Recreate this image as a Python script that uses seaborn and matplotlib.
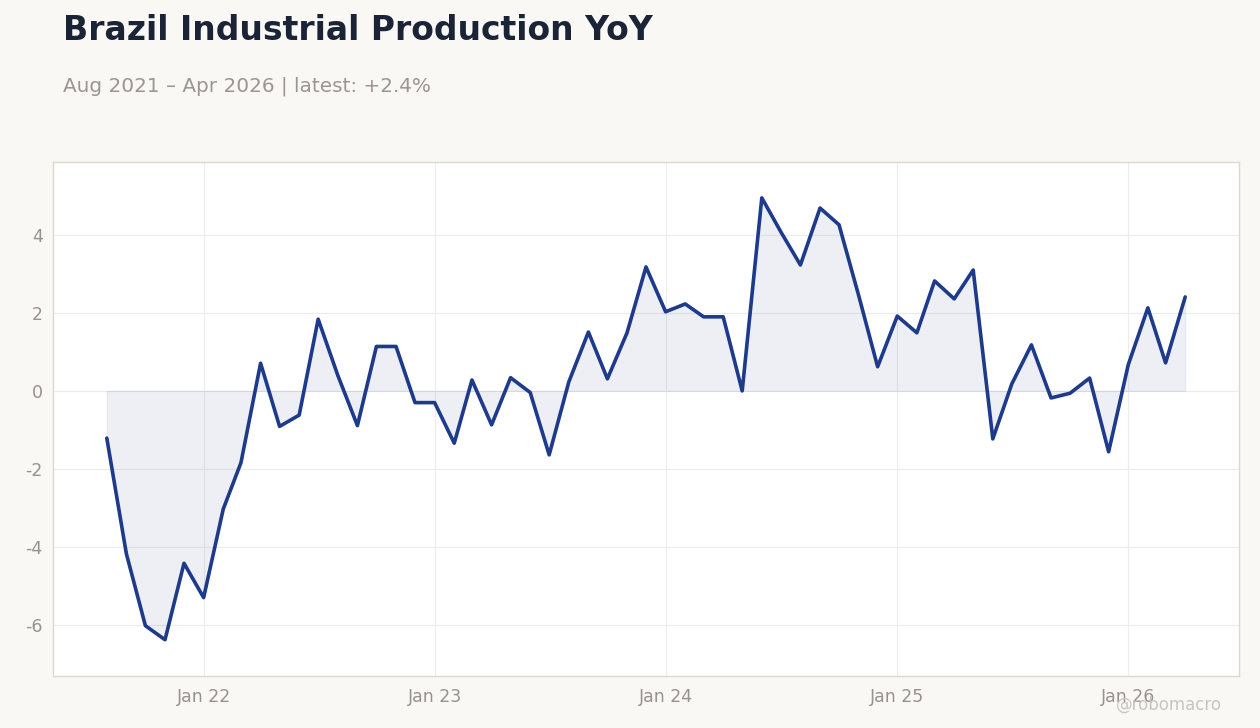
import pandas as pd
import numpy as np
import matplotlib.pyplot as plt
import matplotlib.dates as mdates
import seaborn as sns

# Brazil industrial production, YoY %, monthly Aug 2021 - Apr 2026
months = pd.date_range('2021-08-01', '2026-04-01', freq='MS')
yoy = [-1.21, -4.18, -6.02, -6.38, -4.42, -5.30, -3.03, -1.84, 0.71, -0.91,
       -0.62, 1.84, 0.40, -0.89, 1.14, 1.14, -0.30, -0.30, -1.34, 0.28,
       -0.87, 0.34, -0.04, -1.64, 0.23, 1.51, 0.31, 1.49, 3.18, 2.03,
       2.23, 1.90, 1.90, 0.00, 4.95, 4.08, 3.23, 4.69, 4.26, 2.45,
       0.62, 1.92, 1.49, 2.82, 2.36, 3.10, -1.23, 0.18, 1.18, -0.18,
       -0.06, 0.33, -1.56, 0.67, 2.13, 0.72, 2.41]
y_ticks = [-6, -4, -2, 0, 2, 4]

df = pd.DataFrame({'date': months, 'yoy': yoy})

bg = '#f9f8f5'
line_col = '#1e3a8a'
sns.set_style('whitegrid')
plt.rcParams['font.family'] = ['DejaVu Sans']

fig = plt.figure(figsize=(12.6, 7.28), dpi=100, facecolor=bg)
ax = fig.add_axes([53 / 1260, 1 - 676 / 728, (1239 - 53) / 1260, (676 - 162) / 728])
ax.set_facecolor('white')

ax.fill_between(df['date'], df['yoy'], 0, color=line_col, alpha=0.08, linewidth=0.8)
sns.lineplot(data=df, x='date', y='yoy', ax=ax, color=line_col, linewidth=2.6)

ax.set_ylim(-7.31, 5.87)
ax.set_xlim(months[0] - pd.Timedelta(days=85), months[-1] + pd.Timedelta(days=85))
ax.set_yticks(y_ticks)
ax.set_yticklabels([str(t) for t in y_ticks])
ax.xaxis.set_major_locator(mdates.YearLocator(month=1))
ax.xaxis.set_major_formatter(mdates.DateFormatter('Jan %y'))
ax.set_xlabel('')
ax.set_ylabel('')

ax.grid(True, color='#ececec', linewidth=0.8)
for s in ax.spines.values():
    s.set_visible(True)
    s.set_color('#ddd8d0')
    s.set_linewidth(1)
ax.tick_params(axis='both', colors='#96928d', labelsize=12.5, length=4, width=0.8,
               labelcolor='#96928d')
ax.tick_params(axis='x', pad=5)

fig.text(63 / 1260, 1 - 30 / 728, 'Brazil Industrial Production YoY', fontsize=23.8,
         fontweight='bold', color='#1b2436', va='center', ha='left')
fig.text(63 / 1260, 1 - 86 / 728, 'Aug 2021 – Apr 2026 | latest: +2.4%', fontsize=14.4,
         color='#9a9691', va='center', ha='left')
fig.text(1222 / 1260, 1 - 705 / 728, '@robomacro', fontsize=12, color='#c8c5c0',
         va='center', ha='right')

fig.savefig('out.png', dpi=100, facecolor=bg)
